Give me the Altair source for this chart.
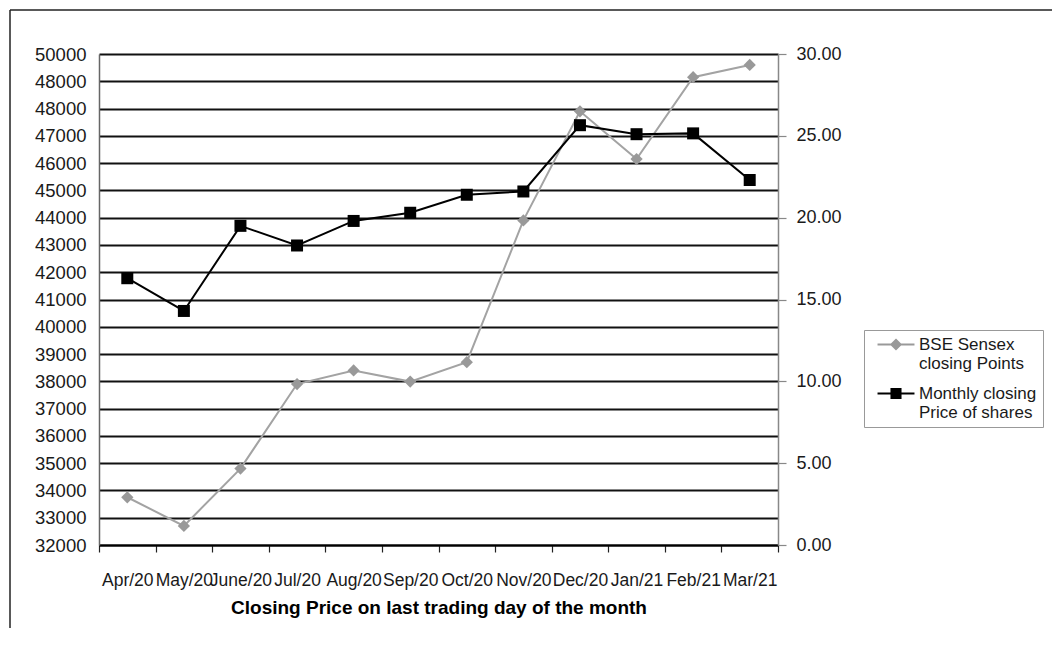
import altair as alt
import pandas as pd

# ---- data ----
months = ["Apr/20", "May/20", "June/20", "Jul/20", "Aug/20", "Sep/20",
          "Oct/20", "Nov/20", "Dec/20", "Jan/21", "Feb/21", "Mar/21"]
sensex = [33750, 32700, 34800, 37900, 38400, 37990, 38700, 43900, 47900, 46150, 49150, 49600]
share_price = [16.3, 14.3, 19.5, 18.3, 19.8, 20.3, 21.4, 21.6, 25.65, 25.1, 25.15, 22.3]

series_names = ["BSE Sensex closing Points", "Monthly closing Price of shares"]
legend_lines = [["BSE Sensex", "closing Points"], ["Monthly closing", "Price of shares"]]

left_tick_values = [32000, 33000, 34000, 35000, 36000, 37000, 38000, 39000, 40000,
                    41000, 42000, 43000, 44000, 45000, 46000, 47000, 48000, 49000, 50000]
left_tick_labels = ["32000", "33000", "34000", "35000", "36000", "37000", "38000", "39000", "40000",
                    "41000", "42000", "43000", "44000", "45000", "46000", "47000", "48000", "48000", "50000"]
right_tick_values = [0, 5, 10, 15, 20, 25, 30]
x_title = "Closing Price on last trading day of the month"

FONT = "Liberation Sans"
TXT = "#1a1a1a"

df = pd.DataFrame({"month": months, "sensex": sensex, "price": share_price})

x_enc = alt.X(
    "month:N", sort=months,
    scale=alt.Scale(type="band", paddingInner=0, paddingOuter=0),
    axis=alt.Axis(title=x_title, tickBand="extent", labelAngle=0, labelOverlap=False,
                  labelBound=False, labelFontSize=17.5, labelPadding=19, labelFont=FONT,
                  labelColor=TXT, tickSize=7, tickColor="#222", tickWidth=1.2,
                  domainColor="#000", domainWidth=2, grid=False,
                  titleFontSize=19, titleFontWeight="bold", titleFont=FONT,
                  titleColor="#000", titlePadding=10),
)

left_expr = ("[" + ",".join("'%s'" % s for s in left_tick_labels) + "][indexof(["
             + ",".join(str(v) for v in left_tick_values) + "], datum.value)]")

gray_y = alt.Y(
    "sensex:Q",
    scale=alt.Scale(domain=[32000, 50000], nice=False, zero=False),
    axis=alt.Axis(title=None, orient="left", values=left_tick_values, labelExpr=left_expr,
                  grid=True, gridColor="#111", gridWidth=2, ticks=False, labelPadding=13,
                  domainColor="#666", domainWidth=1.5, labelFontSize=18.5, labelFont=FONT,
                  labelColor=TXT),
)

black_y = alt.Y(
    "price:Q",
    scale=alt.Scale(domain=[0, 30], nice=False, zero=True),
    axis=alt.Axis(title=None, orient="right", values=right_tick_values, format=".2f",
                  grid=False, tickSize=8, tickColor="#888", tickWidth=1.2,
                  domainColor="#888", domainWidth=1.5, labelPadding=10,
                  labelFontSize=18, labelFont=FONT, labelColor=TXT),
)

base = alt.Chart(df)
gray_line = base.mark_line(color="#a3a3a3", strokeWidth=2).encode(x=x_enc, y=gray_y)
gray_pts = base.mark_point(shape="diamond", filled=True, size=150, color="#999999",
                           opacity=1).encode(x=x_enc, y=gray_y)
gray_layer = alt.layer(gray_line, gray_pts)

black_line = base.mark_line(color="#000000", strokeWidth=2).encode(x=x_enc, y=black_y)
black_pts = base.mark_point(shape="square", filled=True, size=144, color="#000000",
                            opacity=1).encode(x=x_enc, y=black_y)
black_layer = alt.layer(black_line, black_pts)

# ---- legend (native Vega-Lite legend, symbols = line + marker) ----
# symbolSize 196 -> 7 px per path unit
L, t, d, s = 2.64, 0.14, 0.86, 0.79
diamond_path = (f"M-{L},-{t}L-{d - t:.2f},-{t}L0,-{d}L{d - t:.2f},-{t}L{L},-{t}L{L},{t}"
                f"L{d - t:.2f},{t}L0,{d}L-{d - t:.2f},{t}L-{L},{t}Z")
square_path = (f"M-{L},-{t}H-{s}V-{s}H{s}V-{t}H{L}V{t}H{s}V{s}H-{s}V{t}H-{L}Z")

label_expr = ""
for name, lines in zip(series_names, legend_lines):
    label_expr += "datum.label == '%s' ? [%s] : " % (name, ",".join("'%s'" % l for l in lines))
label_expr += "datum.label"

legend = alt.Legend(orient="none", legendX=765, legendY=276, title=None,
                    labelExpr=label_expr, labelFontSize=17, labelFont=FONT, labelColor=TXT,
                    labelLimit=400, labelOffset=14.5, symbolOffset=17.5, symbolSize=196,
                    symbolStrokeWidth=0, strokeColor="#999999", fillColor="#ffffff",
                    padding=6, rowPadding=12)

legend_df = pd.DataFrame({"series": series_names})
carrier = alt.Chart(legend_df).transform_filter("false").mark_point(
    filled=True, opacity=1).encode(
    fill=alt.Fill("series:N", scale=alt.Scale(domain=series_names, range=["#999999", "#000000"]),
                  legend=legend),
    shape=alt.Shape("series:N", scale=alt.Scale(domain=series_names, range=[diamond_path, square_path]),
                    legend=legend),
)

# ---- outer frame (decoration) ----
frame_df = pd.DataFrame({"k": [0]})
frame_top = alt.Chart(frame_df).mark_rule(color="#222", strokeWidth=1.5).encode(
    x=alt.value(-89), x2=alt.value(960), y=alt.value(-44))
frame_left = alt.Chart(frame_df).mark_rule(color="#222", strokeWidth=1.5).encode(
    x=alt.value(-89), y=alt.value(-44), y2=alt.value(600))

chart = alt.layer(frame_top, frame_left, gray_layer, black_layer, carrier).resolve_scale(
    y="independent"
).properties(
    width=679, height=491, autosize="none",
    padding={"left": 91, "top": 46, "right": 274, "bottom": 83},
    background="#ffffff",
).configure_view(stroke="transparent")

chart.save("out.html", embed_options={"renderer": "svg", "actions": False})
